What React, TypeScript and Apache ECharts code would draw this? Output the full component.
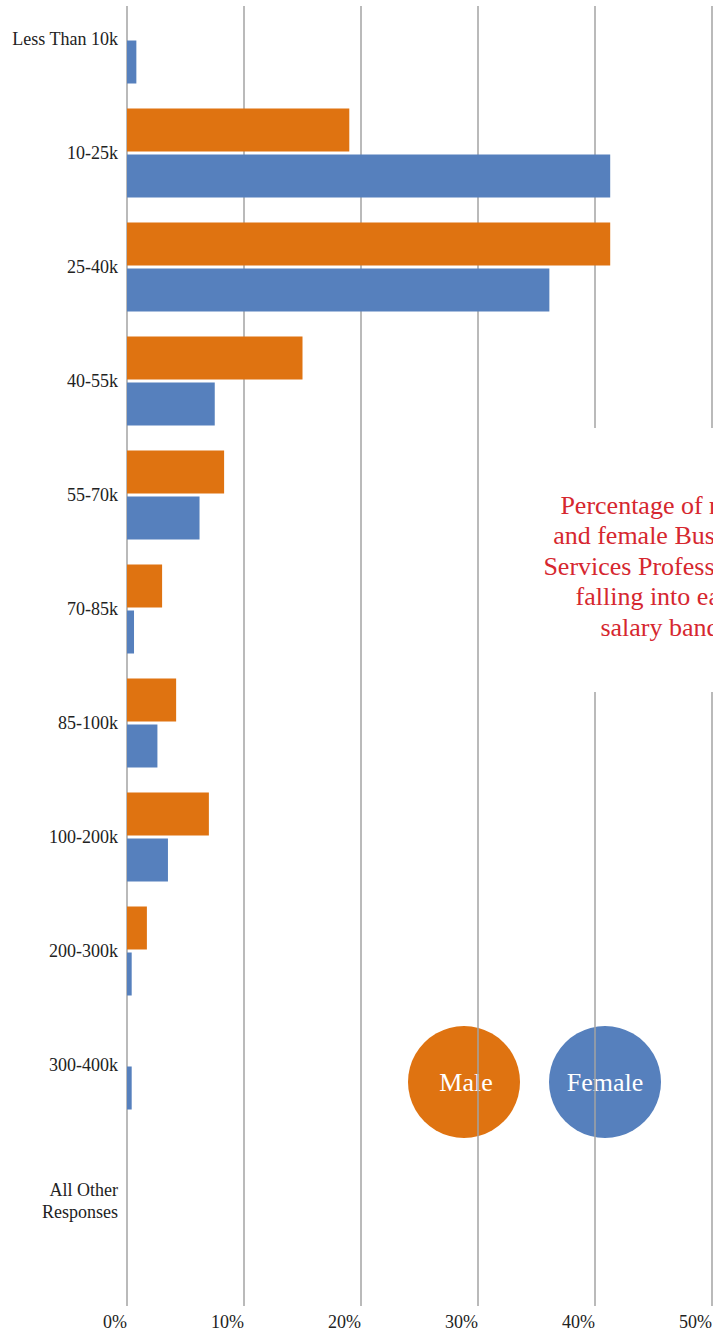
import React, { useEffect, useRef } from "react";
import * as echarts from "echarts";

const categories = [
  "Less Than 10k",
  "10-25k",
  "25-40k",
  "40-55k",
  "55-70k",
  "70-85k",
  "85-100k",
  "100-200k",
  "200-300k",
  "300-400k",
  "All Other\nResponses",
];
const maleValues = [0, 19.0, 41.3, 15.0, 8.3, 3.0, 4.2, 7.0, 1.7, 0, 0];
const femaleValues = [0.8, 41.3, 36.1, 7.5, 6.2, 0.6, 2.6, 3.5, 0.4, 0.4, 0];
const seriesNames = ["Male", "Female"];
const xTicks = { min: 0, max: 50, interval: 10 };
const titleText =
  "Percentage of male\nand female Business\nServices Professionals\nfalling into each\nsalary band";

const ORANGE = "#DF7311";
const BLUE = "#5680BD";
const SERIF = '"Liberation Serif", "Times New Roman", serif';

export default function App() {
  const ref = useRef<HTMLDivElement>(null);
  useEffect(() => {
    if (!ref.current) return;
    const chart = echarts.init(ref.current, null, { renderer: "svg" });
    chart.setOption({
      animation: false,
      backgroundColor: "#fff",
      textStyle: { fontFamily: SERIF },
      grid: [
        { left: 127, right: 1, top: 6, bottom: 26, outerBoundsMode: "none", containLabel: false },
        { left: 127, right: 1, top: -18, height: 1254, outerBoundsMode: "none", containLabel: false },
      ],
      xAxis: [
        {
          gridIndex: 0,
          type: "value",
          min: xTicks.min,
          max: xTicks.max,
          interval: xTicks.interval,
          axisLine: { show: false },
          axisTick: { show: false },
          splitLine: { show: true, lineStyle: { color: "#a3a3a3", width: 1.5 } },
          axisLabel: {
            formatter: "{value}%",
            align: "right",
            margin: 7,
            fontSize: 18,
            color: "#222",
            fontFamily: SERIF,
          },
        },
        {
          gridIndex: 1,
          type: "value",
          min: xTicks.min,
          max: xTicks.max,
          show: false,
          splitLine: { show: false },
        },
      ],
      yAxis: [
        { gridIndex: 0, type: "value", show: false, splitLine: { show: false } },
        {
          gridIndex: 1,
          type: "category",
          inverse: true,
          data: categories,
          axisLine: { show: false },
          axisTick: { show: false },
          splitLine: { show: false },
          axisLabel: {
            margin: 9,
            fontSize: 18,
            lineHeight: 22,
            color: "#222",
            fontFamily: SERIF,
            formatter: (v: string) => (v.indexOf("\n") >= 0 ? "\n\n" + v : v),
          },
        },
      ],
      series: [
        {
          name: seriesNames[0],
          type: "bar",
          xAxisIndex: 1,
          yAxisIndex: 1,
          data: maleValues,
          barWidth: 43,
          barGap: "7%",
          itemStyle: { color: ORANGE },
        },
        {
          name: seriesNames[1],
          type: "bar",
          xAxisIndex: 1,
          yAxisIndex: 1,
          data: femaleValues,
          barWidth: 43,
          barGap: "7%",
          itemStyle: { color: BLUE },
        },
      ],
      graphic: [
        {
          type: "rect",
          z: 100,
          shape: { x: 490, y: 428, width: 230, height: 264 },
          style: { fill: "#fff" },
        },
        {
          type: "text",
          z: 101,
          x: 660,
          y: 566,
          style: {
            text: titleText,
            fill: "#D6272F",
            font: "26px " + SERIF,
            lineHeight: 30.5,
            textAlign: "center",
            textVerticalAlign: "middle",
          },
        },
        {
          type: "group",
          z: 100,
          children: [
            { type: "circle", shape: { cx: 464, cy: 1082, r: 56 }, style: { fill: ORANGE } },
            {
              type: "text",
              x: 466,
              y: 1082,
              style: {
                text: seriesNames[0],
                fill: "#fff",
                font: "26px " + SERIF,
                textAlign: "center",
                textVerticalAlign: "middle",
              },
            },
            { type: "circle", shape: { cx: 605, cy: 1082, r: 56 }, style: { fill: BLUE } },
            {
              type: "text",
              x: 605,
              y: 1082,
              style: {
                text: seriesNames[1],
                fill: "#fff",
                font: "26px " + SERIF,
                textAlign: "center",
                textVerticalAlign: "middle",
              },
            },
          ],
        },
      ],
    });
    return () => chart.dispose();
  }, []);
  return <div ref={ref} style={{ width: 713, height: 1332, position: "absolute", left: 0, top: 0 }} />;
}
